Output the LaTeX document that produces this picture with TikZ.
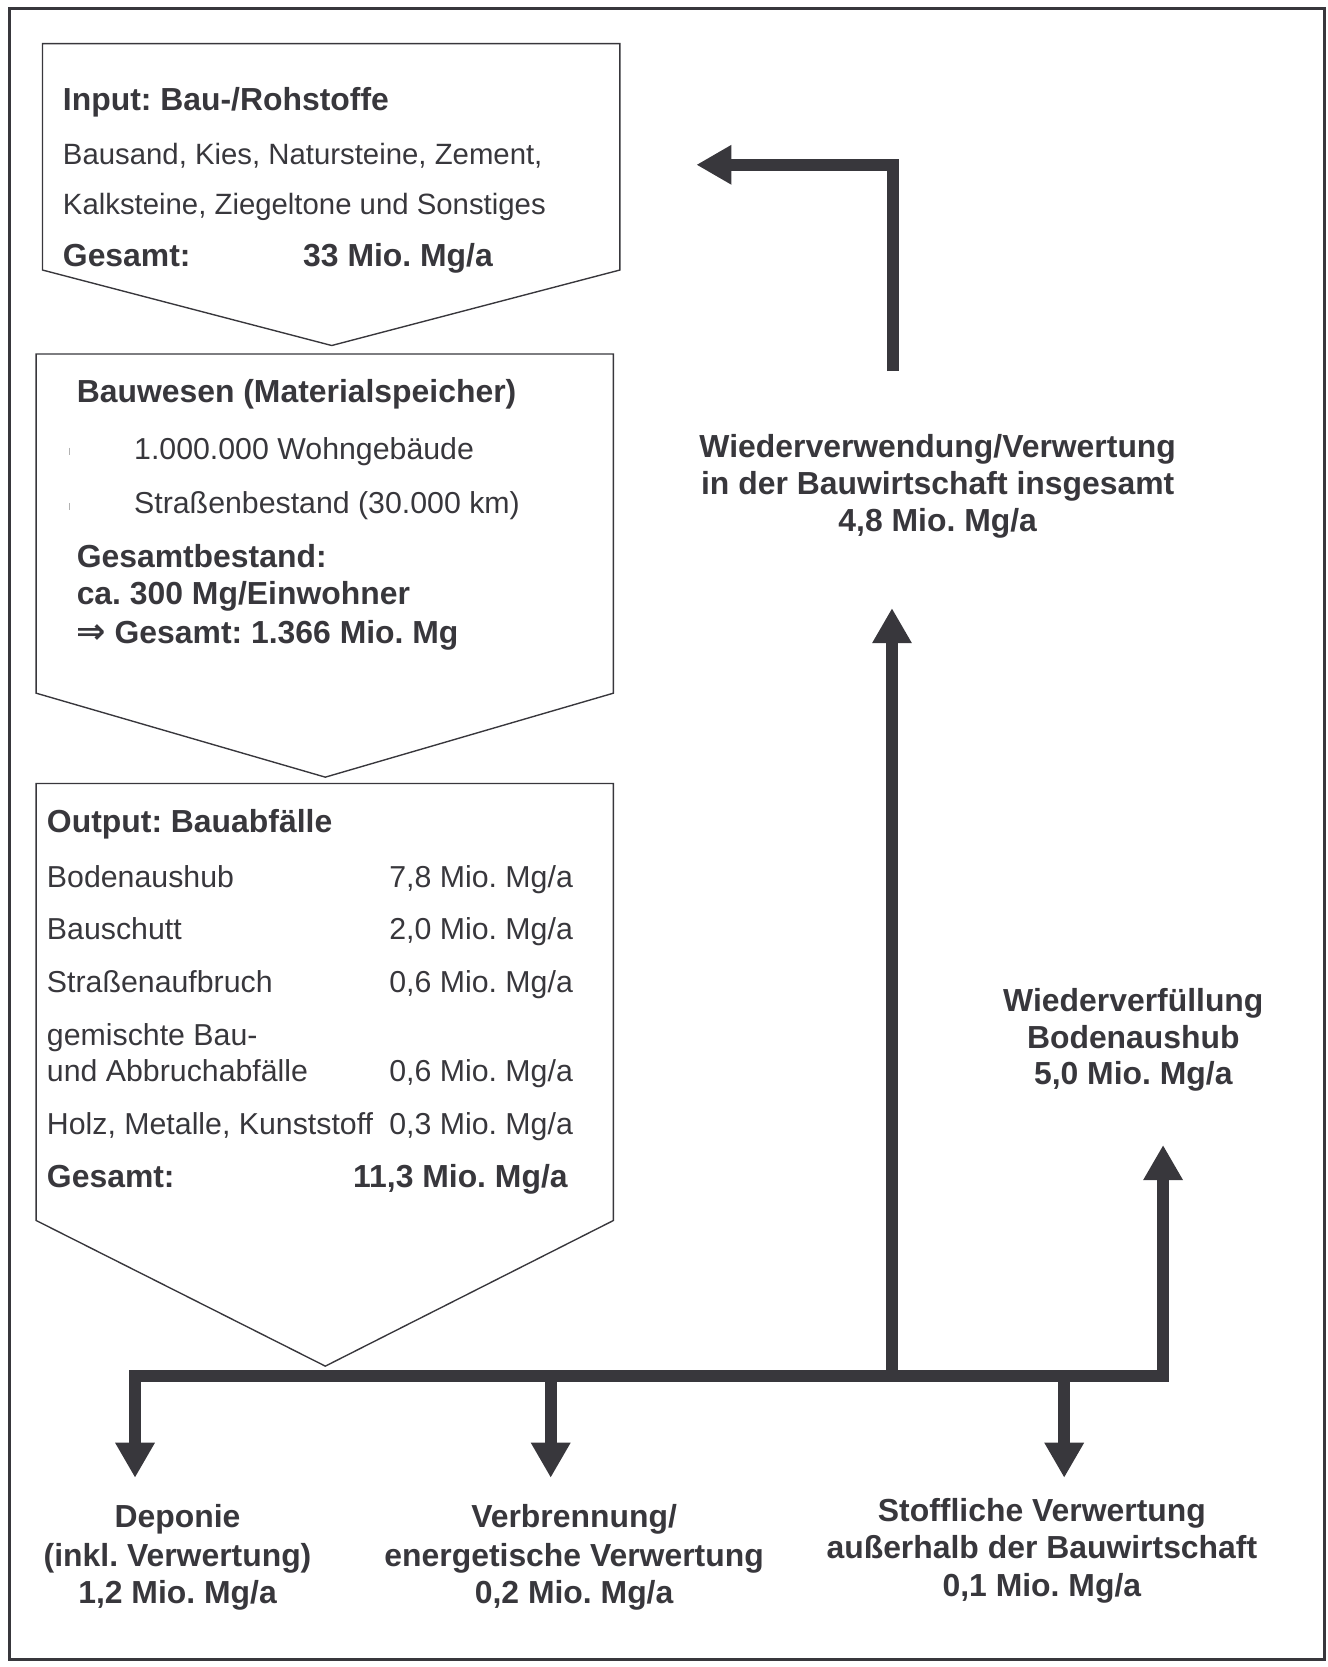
\documentclass[tikz,border=0pt]{standalone}
\usepackage{fontspec}
\setmainfont{Liberation Sans}
\usetikzlibrary{arrows.meta}
\definecolor{ink}{RGB}{56,55,60}
\frenchspacing
\begin{document}
\frenchspacing
\begin{tikzpicture}[x=1pt,y=-1pt,
  reg/.style={font=\frenchspacing\fontsize{28.5}{34}\selectfont, text=ink, anchor=base west, inner sep=0pt},
  regs/.style={font=\frenchspacing\fontsize{27.6}{34}\selectfont, text=ink, anchor=base west, inner sep=0pt},
  bld/.style={font=\frenchspacing\fontsize{30}{35}\selectfont\bfseries, text=ink, anchor=base west, inner sep=0pt},
  lbl/.style={font=\frenchspacing\fontsize{30}{35}\selectfont\bfseries, text=ink, anchor=base, inner sep=0pt},
  boxline/.style={draw=ink, line width=1.3pt, line join=miter},
  flow/.style={draw=ink, line width=11.5pt, line join=miter},
  tipend/.style={-{Triangle[length=33pt,width=35pt]}},
  tipboth/.style={{Triangle[length=33pt,width=35pt]}-{Triangle[length=33pt,width=35pt]}}
]
\useasboundingbox (0,0) rectangle (1249,1568);
% outer frame
\draw[ink, line width=2.5pt] (9,8) rectangle (1246,1561);

% box 1 : input
\coordinate (b1tl) at (40,41);
\coordinate (b1tr) at (583,41);
\coordinate (b1sr) at (583,254);
\coordinate (b1tip) at (312,325);
\coordinate (b1sl) at (40,254);
\draw[boxline] (b1tl) -- (b1tr) -- (b1sr) -- (b1tip) -- (b1sl) -- cycle;
\node[bld] (in1) at (59,104) {Input: Bau-/Rohstoffe};
\node[regs] (in2) at (59,155) {Bausand, Kies, Natursteine, Zement,};
\node[regs] (in3) at (59,202) {Kalksteine, Ziegeltone und Sonstiges};
\node[bld] (in4) at (59,251) {Gesamt:};
\node[bld] (in5) at (285,251) {33 Mio. Mg/a};

% box 2 : Bauwesen
\coordinate (b2tl) at (34,333);
\coordinate (b2tr) at (577,333);
\coordinate (b2sr) at (577,652);
\coordinate (b2tip) at (306,731);
\coordinate (b2sl) at (34,652);
\draw[boxline] (b2tl) -- (b2tr) -- (b2sr) -- (b2tip) -- (b2sl) -- cycle;
\node[bld] (bw1) at (72,379) {Bauwesen (Materialspeicher)};
\coordinate (m1a) at (65,421); \coordinate (m1b) at (65,428);
\coordinate (m2a) at (65,473); \coordinate (m2b) at (65,480);
\draw[gray!60, line width=0.8pt] (m1a) -- (m1b);
\draw[gray!60, line width=0.8pt] (m2a) -- (m2b);
\node[reg] (bw2) at (126,432) {1.000.000 Wohngebäude};
\node[reg] (bw3) at (126,483) {Straßenbestand (30.000 km)};
\node[bld] (bw4) at (72,534) {Gesamtbestand:};
\node[bld] (bw5) at (72,569) {ca. 300 Mg/Einwohner};
\node[bld] (bw6) at (72,605) {{\fontspec{DejaVu Sans}\fontsize{33}{35}\selectfont⇒}\hspace{8pt}Gesamt: 1.366 Mio. Mg};

% box 3 : output
\coordinate (b3tl) at (34,737);
\coordinate (b3tr) at (577,737);
\coordinate (b3sr) at (577,1148);
\coordinate (b3tip) at (306,1285);
\coordinate (b3sl) at (34,1148);
\draw[boxline] (b3tl) -- (b3tr) -- (b3sr) -- (b3tip) -- (b3sl) -- cycle;
\node[bld] (o1) at (44,783) {Output: Bauabfälle};
\node[reg] (o2) at (44,835) {Bodenaushub};
\node[reg] (o2v) at (366,835) {7,8 Mio. Mg/a};
\node[reg] (o3) at (44,884) {Bauschutt};
\node[reg] (o3v) at (366,884) {2,0 Mio. Mg/a};
\node[reg] (o4) at (44,934) {Straßenaufbruch};
\node[reg] (o4v) at (366,934) {0,6 Mio. Mg/a};
\node[reg] (o5) at (44,983) {gemischte Bau-};
\node[reg] (o6) at (44,1017) {und Abbruchabfälle};
\node[reg] (o6v) at (366,1017) {0,6 Mio. Mg/a};
\node[reg] (o7) at (44,1067) {Holz, Metalle, Kunststoff};
\node[reg] (o7v) at (366,1067) {0,3 Mio. Mg/a};
\node[bld] (o8) at (44,1117) {Gesamt:};
\node[bld] (o8v) at (332,1117) {11,3 Mio. Mg/a};

% flows
\coordinate (depTip) at (127,1390);
\coordinate (busL) at (127,1294);
\coordinate (busR) at (1094,1294);
\coordinate (wvfTip) at (1094,1077);
\draw[flow, tipboth] (depTip) -- (busL) -- (busR) -- (wvfTip);

\coordinate (vbJ) at (518,1294);
\coordinate (vbTip) at (518,1390);
\draw[flow, tipend] (vbJ) -- (vbTip);
\coordinate (svJ) at (1001,1294);
\coordinate (svTip) at (1001,1390);
\draw[flow, tipend] (svJ) -- (svTip);
\coordinate (wvJ) at (839,1294);
\coordinate (wvTip) at (839,572);
\draw[flow, tipend] (wvJ) -- (wvTip);

\coordinate (retS) at (840,349);
\coordinate (retC) at (840,155);
\coordinate (retTip) at (655,155);
\draw[flow, tipend] (retS) -- (retC) -- (retTip);

% labels
\node[lbl] (wv1) at (882,430) {Wiederverwendung/Verwertung};
\node[lbl] (wv2) at (882,465) {in der Bauwirtschaft insgesamt};
\node[lbl] (wv3) at (882,500) {4,8 Mio. Mg/a};

\node[lbl] (wf1) at (1066,951) {Wiederverfüllung};
\node[lbl] (wf2) at (1066,986) {Bodenaushub};
\node[lbl] (wf3) at (1066,1020) {5,0 Mio. Mg/a};

\node[lbl] (dp1) at (167,1437) {Deponie};
\node[lbl] (dp2) at (167,1473) {(inkl. Verwertung)};
\node[lbl] (dp3) at (167,1508) {1,2 Mio. Mg/a};

\node[lbl] (vb1) at (540,1437) {Verbrennung/};
\node[lbl] (vb2) at (540,1473) {energetische Verwertung};
\node[lbl] (vb3) at (540,1508) {0,2 Mio. Mg/a};

\node[lbl] (sv1) at (980,1431) {Stoffliche Verwertung};
\node[lbl] (sv2) at (980,1466) {außerhalb der Bauwirtschaft};
\node[lbl] (sv3) at (980,1502) {0,1 Mio. Mg/a};
\end{tikzpicture}
\end{document}
